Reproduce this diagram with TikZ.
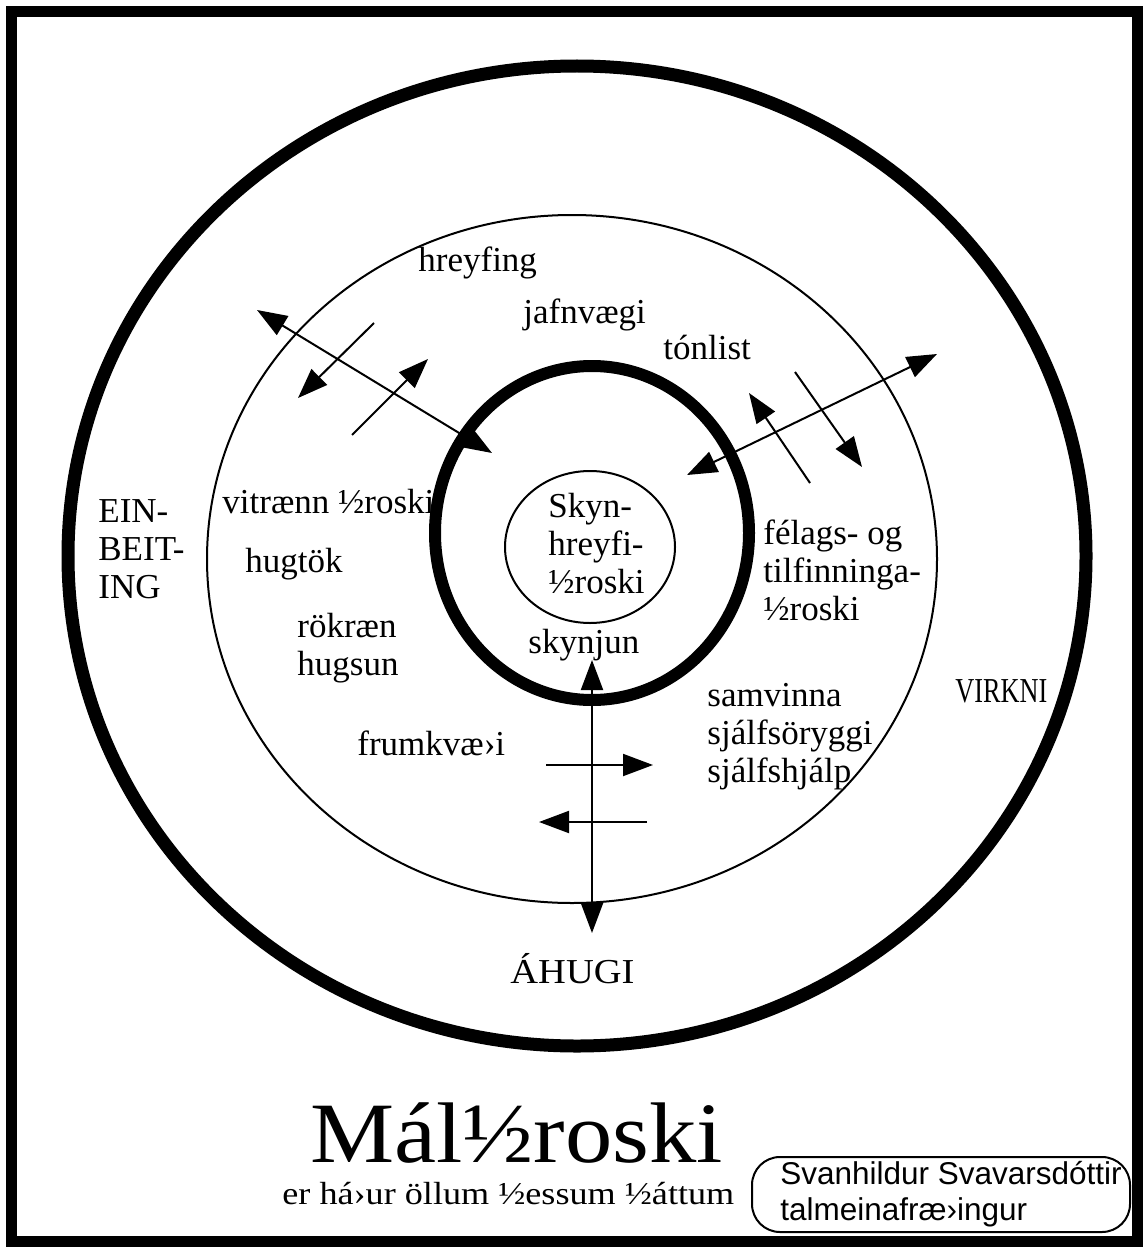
\documentclass[tikz,border=0pt]{standalone}
\usepackage{fontspec}
\usepackage{graphicx}
\setmainfont{Liberation Serif}
\newfontfamily\namefont{Liberation Sans}
\usetikzlibrary{arrows.meta}

\begin{document}
\begin{tikzpicture}[%
      x=0.5pt, y=-0.5pt, %
      ring/.style={line width=1pt},
      thickring/.style={line width=6.5pt},
      lbl/.style={inner sep=0pt, font=\fontsize{17.5}{19}\selectfont},
      biarrow/.style={line width=1pt, {Triangle[length=15pt, width=11pt]}-{Triangle[length=15pt, width=11pt]}},
      onearrow/.style={line width=1pt, -{Triangle[length=15pt, width=11pt]}}
      ]
      \useasboundingbox (0,0) rectangle (1143,1247);

      % Frame
      \draw[line width=5.5pt] (11.5,11.5) rectangle (1137.5,1241.5);

      % Rings
      \draw[thickring] (577,556) ellipse [x radius=509, y radius=490];
      \draw[ring] (572,559) ellipse [x radius=365, y radius=344];
      \draw[line width=6pt] (592,533) ellipse [x radius=157, y radius=167];
      \draw[ring] (590,547) ellipse [x radius=85, y radius=76];

      % Labels (multi-line ones sit on the last baseline)
      \node[lbl, anchor=base west] (hreyfing) at (418,271) {hreyfing};
      \node[lbl, anchor=base west] (jafnvaegi) at (523,323) {jafnvægi};
      \node[lbl, anchor=base west] (tonlist) at (663,359) {tónlist};
      \node[lbl, anchor=base west] (vitraenn) at (222,513) {vitrænn ½roski};
      \node[lbl, anchor=base west] (hugtok) at (245,572) {hugtök};
      \node[lbl, anchor=base west, align=left] (rokraen) at (297,675) {rökræn\\hugsun};
      \node[lbl, anchor=base west, align=left] (einbeiting) at (98,598) {EIN-\\BEIT-\\ING};
      \node[lbl, anchor=base west] (frumkvaedi) at (357,755) {frumkvæ›i};
      \node[lbl, anchor=base west, align=left] (skynhreyfi) at (548,593) {Skyn-\\hreyfi-\\½roski};
      \node[lbl, anchor=base west] (skynjun) at (528,653) {skynjun};
      \node[lbl, anchor=base west, align=left] (felags) at (763,620) {félags- og\\tilfinninga-\\½roski};
      \node[lbl, anchor=base west, align=left] (samvinna) at (707,782) {samvinna\\sjálfsöryggi\\sjálfshjálp};
      \node[lbl, anchor=base west] (virkni) at (955,702) {\scalebox{0.75}[1]{VIRKNI}};
      \node[lbl, anchor=base west] (ahugi) at (510,983) {\scalebox{1.1}[1]{ÁHUGI}};

      % Upper left arrows
      \coordinate (ul-out) at (257,310);
      \coordinate (ul-in) at (492,453);
      \coordinate (ul-a1) at (374,323);
      \coordinate (ul-a2) at (298,398);
      \coordinate (ul-b1) at (352,435);
      \coordinate (ul-b2) at (428,359);
      \draw[biarrow] (ul-out) -- (ul-in);
      \draw[onearrow] (ul-a1) -- (ul-a2);
      \draw[onearrow] (ul-b1) -- (ul-b2);

      % Upper right arrows
      \coordinate (ur-in) at (687,475);
      \coordinate (ur-out) at (937,354);
      \coordinate (ur-a1) at (810,483);
      \coordinate (ur-a2) at (749,393);
      \coordinate (ur-b1) at (795,372);
      \coordinate (ur-b2) at (862,467);
      \draw[biarrow] (ur-in) -- (ur-out);
      \draw[onearrow] (ur-a1) -- (ur-a2);
      \draw[onearrow] (ur-b1) -- (ur-b2);

      % Lower arrows
      \coordinate (dn-in) at (592,660);
      \coordinate (dn-out) at (592,933);
      \coordinate (dn-a1) at (546,765);
      \coordinate (dn-a2) at (653,765);
      \coordinate (dn-b1) at (647,822);
      \coordinate (dn-b2) at (539,822);
      \draw[biarrow] (dn-in) -- (dn-out);
      \draw[onearrow] (dn-a1) -- (dn-a2);
      \draw[onearrow] (dn-b1) -- (dn-b2);

      % Title
      \node[inner sep=0pt, anchor=base west, text depth=0pt, font=\fontsize{43}{48}\selectfont] (title) at (310,1162) {\scalebox{1.1}[1]{Mál½roski}};
      \node[inner sep=0pt, anchor=base west, font=\fontsize{16}{19}\selectfont] (subtitle) at (282,1204) {\scalebox{1.13}[1]{er há›ur öllum ½essum ½áttum}};

      % Name box
      \node[
      draw,
      line width=1pt,
      rounded corners=14pt,
      minimum width=189pt,
      minimum height=37.5pt,
      inner sep=0pt,
      align=left,
      font=\namefont\fontsize{15.75}{18}\selectfont
      ] (name) at (941,1194.5) {\hspace*{10pt}Svanhildur Svavarsdóttir\\\hspace*{10pt}talmeinafræ›ingur};

    \end{tikzpicture}
\end{document}
